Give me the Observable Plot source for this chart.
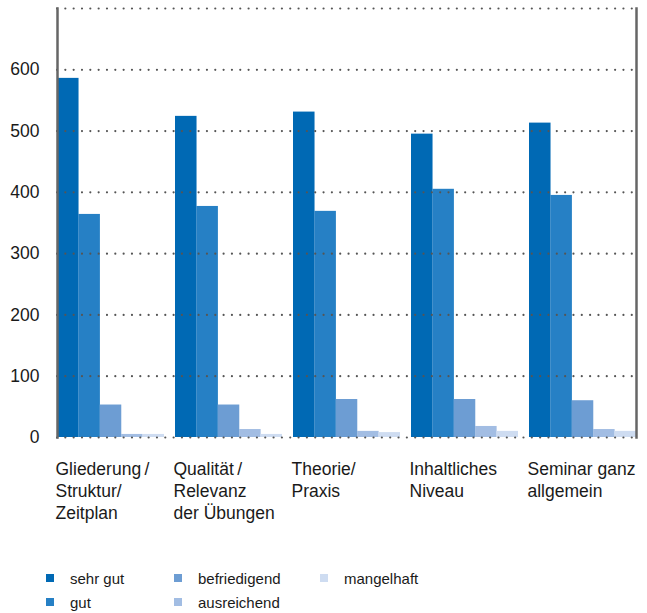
<!DOCTYPE html>
<html>
<head>
<meta charset="utf-8">
<script src="https://cdn.jsdelivr.net/npm/d3@7"></script>
<script src="https://cdn.jsdelivr.net/npm/@observablehq/plot@0.6"></script>
<style>
  body { margin: 0; background: #fff; font-family: "Liberation Sans", Arial, Helvetica, sans-serif; }
  #chart svg { display: block; }
  #legend { position: relative; width: 647px; height: 53px; }
  .item { position: absolute; display: flex; align-items: center; font-size: 15px; color: #1a1a1a; height: 16px; }
  .sw { width: 8px; height: 8px; margin-right: 16px; }
</style>
</head>
<body>
<div id="chart"></div>
<div id="legend"></div>
<script>
const groups = [
  "Gliederung\u2009/\nStruktur/\nZeitplan",
  "Qualität\u2009/\nRelevanz\nder Übungen",
  "Theorie/\nPraxis",
  "Inhaltliches\nNiveau",
  "Seminar ganz\nallgemein"
];
const series = ["sehr gut", "gut", "befriedigend", "ausreichend", "mangelhaft"];
const colors = ["#0069b4", "#2680c5", "#6d9dd3", "#a2bde3", "#cedcf1"];
const sehrGut = [586, 524, 531, 495, 513];
const gut = [364, 377, 369, 405, 395];
const befriedigend = [53, 53, 62, 62, 60];
const ausreichend = [5, 13, 10, 18, 13];
const mangelhaft = [5, 5, 8, 10, 10];
const yTicks = [0, 100, 200, 300, 400, 500, 600];
const gridTicks = [0, 100, 200, 300, 400, 500, 600, 700];

const valuesBySeries = [sehrGut, gut, befriedigend, ausreichend, mangelhaft];

const W = 647, H = 560, mL = 57, mR = 11, mT = 8, mB = 123;
const padInner = 0.095;
// sub-slot width inside each group band (same band parameters as the x scale)
const band = d3.scaleBand().domain(groups).range([mL, W - mR]).paddingInner(padInner).paddingOuter(0);
const sub = band.bandwidth() / series.length;

const barMarks = series.map((s, si) =>
  Plot.barY(groups.map((g, gi) => ({group: g, series: s, value: valuesBySeries[si][gi]})), {
    x: "group", y: "value", fill: "series",
    insetLeft: si * sub, insetRight: (series.length - 1 - si) * sub
  })
);

const chart = Plot.plot({
  width: W,
  height: H,
  marginLeft: mL,
  marginRight: mR,
  marginTop: mT,
  marginBottom: mB,
  style: {fontFamily: "'Liberation Sans', Arial, Helvetica, sans-serif", fontSize: "17.5px", color: "#1a1a1a", background: "#fff"},
  x: {domain: groups, paddingInner: padInner, paddingOuter: 0},
  y: {domain: [0, 700]},
  color: {domain: series, range: colors},
  marks: [
    ...barMarks,
    Plot.ruleY(gridTicks, {stroke: "#555", strokeWidth: 2.2, strokeDasharray: "0 8.33", strokeLinecap: "round"}),
    Plot.frame({anchor: "left", stroke: "#666", strokeWidth: 2.5}),
    Plot.frame({anchor: "right", stroke: "#666", strokeWidth: 2.5}),
    Plot.axisY({ticks: yTicks, tickSize: 0, tickPadding: 18, tickFormat: d => String(d), label: null, fill: "#1a1a1a"}),
    Plot.axisX({anchor: "bottom", tickSize: 0, tickPadding: 22, textAnchor: "start", dx: -55.5, lineHeight: 1.25, label: null, fill: "#1a1a1a"})
  ]
});
document.getElementById("chart").appendChild(chart);

const legend = document.getElementById("legend");
const pos = [[46, 10], [46, 34], [174, 10], [174, 34], [320, 10]];
series.forEach((s, i) => {
  const it = document.createElement("div");
  it.className = "item";
  it.style.left = pos[i][0] + "px";
  it.style.top = pos[i][1] + "px";
  const sw = document.createElement("div");
  sw.className = "sw";
  sw.style.background = colors[i];
  const t = document.createElement("span");
  t.textContent = s;
  it.appendChild(sw);
  it.appendChild(t);
  legend.appendChild(it);
});
</script>
</body>
</html>
